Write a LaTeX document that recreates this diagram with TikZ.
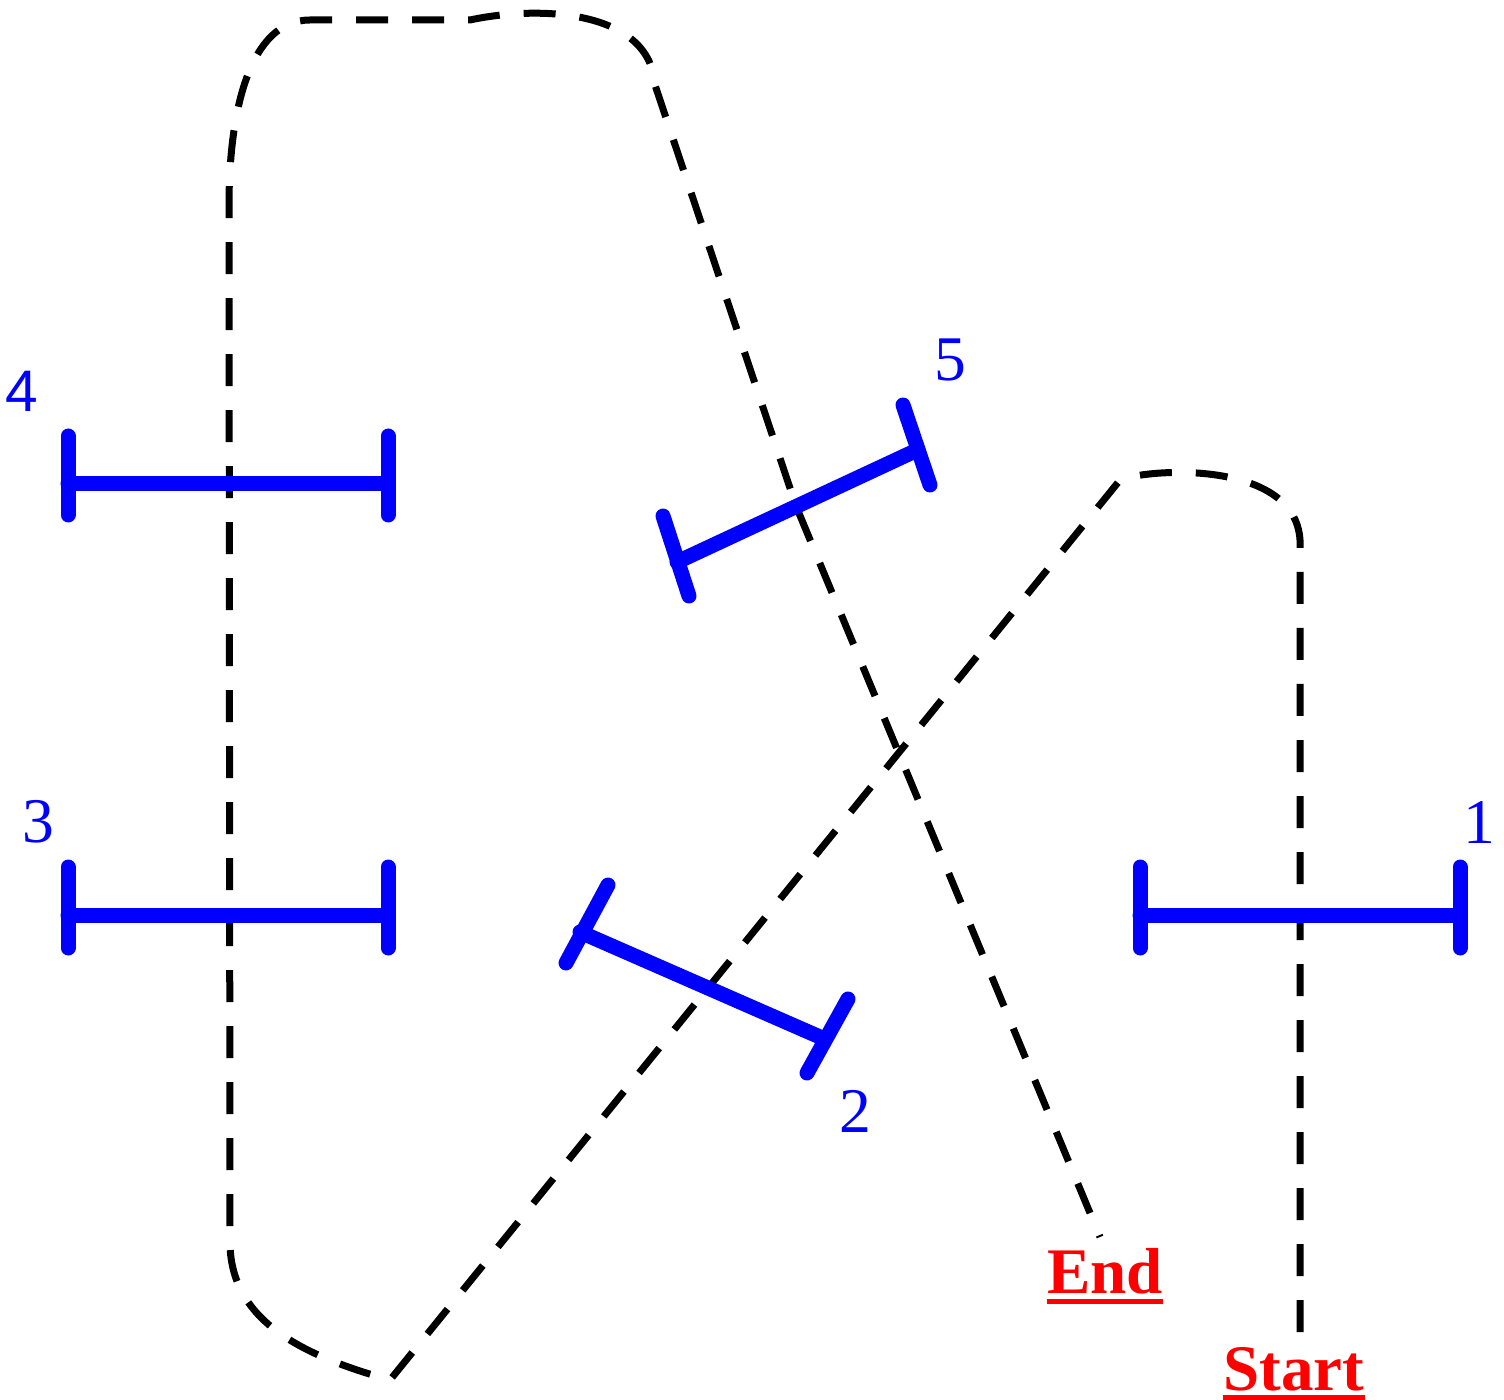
\documentclass[tikz,border=0pt]{standalone}
\usepackage{fontspec}
\setmainfont{Liberation Serif}
\newfontfamily\labsans{Liberation Sans}
\definecolor{gateblue}{RGB}{0,0,255}
\definecolor{flagred}{RGB}{255,0,0}
\begin{document}
\begin{tikzpicture}[x=0.5pt,y=-0.5pt,
  gate/.style={draw=gateblue,line width=7.5pt,line cap=round},
  track/.style={draw=black,line width=3.5pt,dash pattern=on 16pt off 12pt},
  num/.style={text=gateblue,inner sep=0pt,font=\fontsize{31.8}{36}\selectfont},
  numsans/.style={text=gateblue,inner sep=0pt,font=\labsans\fontsize{29.3}{34}\selectfont},
  flag/.style={text=flagred,inner sep=0pt,anchor=base west,font=\fontsize{32.5}{38}\selectfont\bfseries},
  uline/.style={draw=flagred,line width=2.5pt}]
\useasboundingbox (0,0) rectangle (1504,1400);

% track waypoints
\coordinate (p0) at (1300,1332);
\coordinate (p1) at (1300,540);
\coordinate (p2) at (1120,480);
\coordinate (p3) at (390,1380);
\coordinate (p4) at (230,1245);
\coordinate (p5) at (229,205);
\coordinate (p6) at (310,20);
\coordinate (p7) at (470,20);
\coordinate (p8) at (655,85);
\coordinate (p9) at (796,506);
\coordinate (p10) at (1100,1237);

\draw[track] (p0) -- (p1) .. controls (1295,460) and (1150,468) .. (p2)
  -- (p3) .. controls (300,1355) and (232,1320) .. (p4)
  -- (p5) .. controls (229,110) and (250,20) .. (p6)
  -- (p7) .. controls (540,5) and (650,10) .. (p8)
  -- (p9) -- (p10);

% gate 1
\coordinate (g1a) at (1140,915); \coordinate (g1b) at (1460,915);
\draw[gate] (g1a) -- (g1b);
\draw[gate] (1140,867) -- (1140,948);
\draw[gate] (1460,867) -- (1460,948);
% gate 2
\coordinate (g2a) at (580,932); \coordinate (g2b) at (820,1037);
\draw[gate] (g2a) -- (g2b);
\draw[gate] (608,885) -- (566,963);
\draw[gate] (848,999) -- (807,1073);
% gate 3
\coordinate (g3a) at (68,915); \coordinate (g3b) at (388,915);
\draw[gate] (g3a) -- (g3b);
\draw[gate] (68,867) -- (68,948);
\draw[gate] (388,867) -- (388,948);
% gate 4
\coordinate (g4a) at (68,484); \coordinate (g4b) at (388,484);
\draw[gate] (g4a) -- (g4b);
\draw[gate] (68,436) -- (68,515);
\draw[gate] (388,436) -- (388,515);
% gate 5
\coordinate (g5a) at (677,562); \coordinate (g5b) at (913,452);
\draw[gate] (g5a) -- (g5b);
\draw[gate] (663,516) -- (689,596);
\draw[gate] (903,405) -- (930,485);

% gate numbers
\node[num] (n1) at (1479,823) {1};
\node[num] (n2) at (855,1111) {2};
\node[num] (n3) at (38,822) {3};
\node[numsans] (n4) at (22,391) {4};
\node[num] (n5) at (950,360) {5};

% flags
\node[flag] (endlbl) at (1047,1293) {End};
\draw[uline] ([yshift=-4.25pt]endlbl.base west) -- ([yshift=-4.25pt]endlbl.base east);
\node[flag] (startlbl) at (1223,1390) {Start};
\draw[uline] ([yshift=-3.75pt]startlbl.base west) -- ([yshift=-3.75pt]startlbl.base east);
\end{tikzpicture}
\end{document}
